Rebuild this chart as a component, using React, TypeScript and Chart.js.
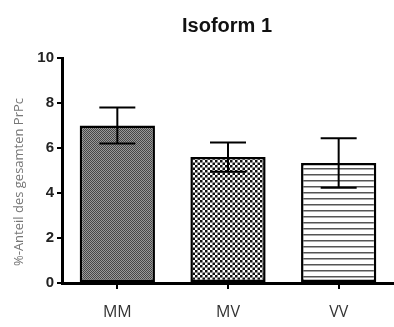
import React, { useEffect, useRef } from "react";
import { Chart, registerables } from "chart.js";

Chart.register(...registerables);

const categories = ["MM", "MV", "VV"];
const means = [7.0, 5.6, 5.33];
const errors = [0.8, 0.65, 1.1];
const yTicks = [0, 2, 4, 6, 8, 10];
const chartTitle = "Isoform 1";
const yTitle = "%-Anteil des gesamten PrPc";

function makePattern(kind: string): CanvasPattern | string {
  const c = document.createElement("canvas");
  const ctx = c.getContext("2d");
  if (!ctx) return "#777";
  if (kind === "fine") {
    c.width = 2; c.height = 2;
    ctx.fillStyle = "#9a9a9a"; ctx.fillRect(0, 0, 2, 2);
    ctx.fillStyle = "#474747"; ctx.fillRect(0, 0, 1, 1); ctx.fillRect(1, 1, 1, 1);
  } else if (kind === "checker") {
    c.width = 5; c.height = 5;
    ctx.fillStyle = "#ffffff"; ctx.fillRect(0, 0, 5, 5);
    ctx.fillStyle = "#111111";
    ctx.fillRect(0, 0, 2.5, 2.5); ctx.fillRect(2.5, 2.5, 2.5, 2.5);
  } else {
    c.width = 6; c.height = 6;
    ctx.fillStyle = "#ffffff"; ctx.fillRect(0, 0, 6, 6);
    ctx.fillStyle = "#555555"; ctx.fillRect(0, 0, 6, 1.5);
  }
  return ctx.createPattern(c, "repeat") || "#777";
}

const errorBarPlugin = {
  id: "errorBars",
  afterDatasetsDraw(chart: any) {
    const ctx = chart.ctx;
    const meta = chart.getDatasetMeta(0);
    const y = chart.scales.y;
    ctx.save();
    ctx.strokeStyle = "#000";
    ctx.lineWidth = 2;
    meta.data.forEach((bar: any, i: number) => {
      const x = bar.x;
      const top = y.getPixelForValue(means[i] + errors[i]);
      const bot = y.getPixelForValue(means[i] - errors[i]);
      ctx.beginPath();
      ctx.moveTo(x, top); ctx.lineTo(x, bot);
      ctx.moveTo(x - 18, top); ctx.lineTo(x + 18, top);
      ctx.moveTo(x - 18, bot); ctx.lineTo(x + 18, bot);
      ctx.stroke();
    });
    ctx.restore();
  },
};

const textPlugin = {
  id: "texts",
  afterDraw(chart: any) {
    const ctx = chart.ctx;
    ctx.save();
    ctx.fillStyle = "#111";
    ctx.font = "bold 20px 'Liberation Sans', Arial, sans-serif";
    ctx.textAlign = "center";
    ctx.textBaseline = "alphabetic";
    ctx.fillText(chartTitle, 227, 32);
    ctx.translate(19, 182);
    ctx.rotate(-Math.PI / 2);
    ctx.fillStyle = "#777";
    ctx.font = "13px 'Open Sans', sans-serif";
    ctx.textBaseline = "middle";
    ctx.fillText(yTitle, 0, 0);
    ctx.restore();
  },
};

export default function App() {
  const ref = useRef<HTMLCanvasElement | null>(null);
  useEffect(() => {
    document.body.style.margin = "0";
    if (!ref.current) return;
    const chart = new Chart(ref.current, {
      type: "bar",
      data: {
        labels: categories,
        datasets: [
          {
            data: means,
            backgroundColor: [makePattern("fine"), makePattern("checker"), makePattern("lines")] as any,
            borderColor: "#000",
            borderWidth: 2.5,
            borderSkipped: false,
            barPercentage: 0.68,
            categoryPercentage: 1,
          },
        ],
      },
      options: {
        responsive: false,
        animation: false,
        layout: { padding: { left: 0, right: 0, top: 58, bottom: 0 } },
        plugins: {
          legend: { display: false },
          tooltip: { enabled: false },
          title: { display: false },
        },
        scales: {
          x: {
            grid: { display: true, drawOnChartArea: false, offset: false, color: "#000", lineWidth: 2, tickLength: 6 },
            border: { color: "#000", width: 3 },
            ticks: { color: "#333", font: { family: "'Open Sans', sans-serif", size: 16 }, padding: 14 },
            afterFit(scale: any) { scale.height = 44; },
          },
          y: {
            min: 0,
            max: 10,
            afterBuildTicks(scale: any) { scale.ticks = yTicks.map((v) => ({ value: v })); },
            grid: { display: true, drawOnChartArea: false, color: "#000", lineWidth: 2, tickLength: 5 },
            border: { color: "#000", width: 3 },
            ticks: { color: "#222", font: { family: "'Liberation Sans', Arial, sans-serif", size: 15, weight: "bold" }, padding: 3 },
            afterFit(scale: any) { scale.width = 62; },
          },
        },
      },
      plugins: [errorBarPlugin, textPlugin],
    } as any);
    return () => chart.destroy();
  }, []);
  return (
    <div style={{ width: 394, height: 327 }}>
      <canvas ref={ref} width={394} height={327} style={{ display: "block" }} />
    </div>
  );
}
